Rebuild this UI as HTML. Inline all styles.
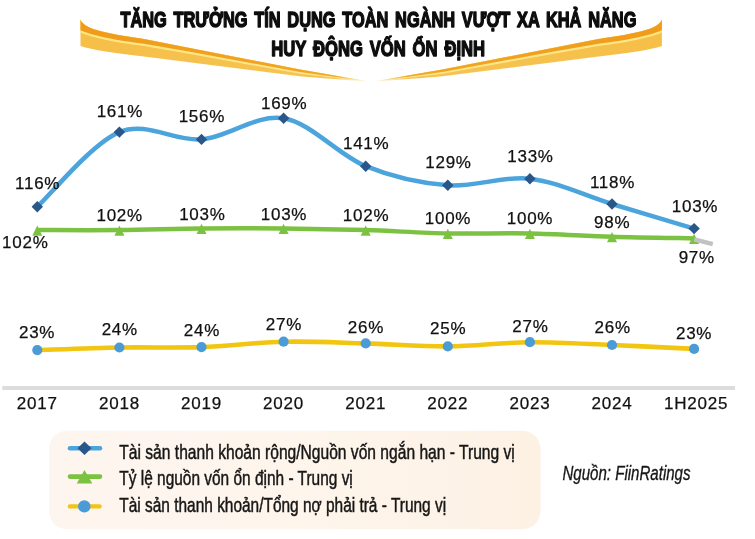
<!DOCTYPE html>
<html lang="vi"><head><meta charset="utf-8"><title>Tăng trưởng tín dụng toàn ngành vượt xa khả năng huy động vốn ổn định</title>
<style>
html,body{margin:0;padding:0;background:#fff;}
body{width:755px;height:539px;overflow:hidden;}
svg{display:block;}
.t{font-family:"Liberation Sans",Arial,sans-serif;fill:#111;}
.lb{font-size:17px;text-anchor:middle;letter-spacing:0.75px;stroke:#111;stroke-width:0.25px;}
.ax{font-size:17px;text-anchor:middle;letter-spacing:0.8px;stroke:#111;stroke-width:0.25px;}
.ti{font-family:"Liberation Sans",Arial,sans-serif;font-weight:700;font-size:22.6px;fill:#0d0d0d;stroke:#0d0d0d;stroke-width:1.5px;stroke-linejoin:round;word-spacing:3px;}
.lg{font-family:"Liberation Sans",Arial,sans-serif;font-size:21px;fill:#161616;stroke:#161616;stroke-width:0.5px;}
.src{font-family:"Liberation Sans",Arial,sans-serif;font-size:20.5px;font-style:italic;fill:#161616;stroke:#161616;stroke-width:0.35px;}
</style></head><body>
<svg width="755" height="539" viewBox="0 0 755 539">
<defs>
<linearGradient id="gOr" gradientUnits="userSpaceOnUse" x1="80" y1="0" x2="372" y2="0">
<stop offset="0" stop-color="#f09b19"/><stop offset="0.87" stop-color="#f2a624"/><stop offset="0.99" stop-color="#f8cf70" stop-opacity="0"/></linearGradient>
<linearGradient id="gPale" gradientUnits="userSpaceOnUse" x1="80" y1="0" x2="372" y2="0">
<stop offset="0" stop-color="#fee682"/><stop offset="0.87" stop-color="#fde68a"/><stop offset="0.99" stop-color="#fdebb0" stop-opacity="0"/></linearGradient>
<linearGradient id="gLow" gradientUnits="userSpaceOnUse" x1="80" y1="0" x2="372" y2="0">
<stop offset="0" stop-color="#f5bf48"/><stop offset="0.87" stop-color="#f6c453"/><stop offset="0.99" stop-color="#f9d98a" stop-opacity="0"/></linearGradient>
<linearGradient id="lgbg" x1="0" y1="0" x2="1" y2="0">
<stop offset="0" stop-color="#fdf5ef"/><stop offset="0.5" stop-color="#fef5ec"/><stop offset="1" stop-color="#fdf1e4"/></linearGradient>
</defs>
<rect width="755" height="539" fill="#fff"/>

<g id="swoosh-left"><path d="M80.5,19.6 C81.5,23 86,26.5 92.5,28.8 C100,31.5 118,35.5 144,39 L300,69.5 L372,82 C340,79.2 320,78.3 300,76.3 L144,56.6 C115,53 92,50 80.5,46 Z" fill="url(#gLow)"/><path d="M80.5,19.6 C81.5,23 86,26.5 92.5,28.8 C100,31.5 118,35.5 144,39 L300,69.5 L372,82 L300,73.8 L190,54 L144,46 C125,43.8 95,38.8 80.5,32.5 Z" fill="url(#gPale)"/><path d="M80.5,19.6 C81.5,23 86,26.5 92.5,28.8 C100,31.5 118,35.5 144,39 L300,69.5 L372,82 L300,72 L190,51.7 L144,43.7 C125,41.5 95,36.5 80.5,30.2 Z" fill="url(#gOr)"/></g>
<g id="swoosh-right" transform="translate(742.4,0) scale(-1,1)"><path d="M80.5,19.6 C81.5,23 86,26.5 92.5,28.8 C100,31.5 118,35.5 144,39 L300,69.5 L372,82 C340,79.2 320,78.3 300,76.3 L144,56.6 C115,53 92,50 80.5,46 Z" fill="url(#gLow)"/><path d="M80.5,19.6 C81.5,23 86,26.5 92.5,28.8 C100,31.5 118,35.5 144,39 L300,69.5 L372,82 L300,73.8 L190,54 L144,46 C125,43.8 95,38.8 80.5,32.5 Z" fill="url(#gPale)"/><path d="M80.5,19.6 C81.5,23 86,26.5 92.5,28.8 C100,31.5 118,35.5 144,39 L300,69.5 L372,82 L300,72 L190,51.7 L144,43.7 C125,41.5 95,36.5 80.5,30.2 Z" fill="url(#gOr)"/></g>
<text class="ti" x="120.4" y="27.4" textLength="516" lengthAdjust="spacingAndGlyphs">TĂNG TRƯỞNG TÍN DỤNG TOÀN NGÀNH VƯỢT XA KHẢ NĂNG</text>
<text class="ti" x="271.3" y="55.9" textLength="213.8" lengthAdjust="spacingAndGlyphs">HUY ĐỘNG VỐN ỔN ĐỊNH</text>
<line x1="2.3" y1="388" x2="735" y2="388" stroke="#dcdcdc" stroke-width="4"/>
<text class="t ax" x="37.3" y="408.7">2017</text>
<text class="t ax" x="119.4" y="408.7">2018</text>
<text class="t ax" x="201.5" y="408.7">2019</text>
<text class="t ax" x="283.6" y="408.7">2020</text>
<text class="t ax" x="365.7" y="408.7">2021</text>
<text class="t ax" x="447.8" y="408.7">2022</text>
<text class="t ax" x="529.9" y="408.7">2023</text>
<text class="t ax" x="612.0" y="408.7">2024</text>
<text class="t ax" x="696.2" y="408.7">1H2025</text>
<path d="M37.30,230.08 C50.98,230.08 92.03,230.36 119.40,230.08 C146.77,229.80 174.13,228.70 201.50,228.42 C228.87,228.14 256.23,228.14 283.60,228.42 C310.97,228.70 338.33,229.25 365.70,230.08 C393.07,230.91 420.43,232.85 447.80,233.40 C475.17,233.95 502.53,232.85 529.90,233.40 C557.27,233.95 584.63,235.89 612.00,236.72 C639.37,237.55 680.42,238.10 694.10,238.38" fill="none" stroke="#7cc242" stroke-width="4.5" stroke-linejoin="round"/>
<path d="M37.30,225.48 L42.30,235.68 L32.30,235.68 Z" fill="#7cc242"/>
<path d="M119.40,225.48 L124.40,235.68 L114.40,235.68 Z" fill="#7cc242"/>
<path d="M201.50,223.82 L206.50,234.02 L196.50,234.02 Z" fill="#7cc242"/>
<path d="M283.60,223.82 L288.60,234.02 L278.60,234.02 Z" fill="#7cc242"/>
<path d="M365.70,225.48 L370.70,235.68 L360.70,235.68 Z" fill="#7cc242"/>
<path d="M447.80,228.80 L452.80,239.00 L442.80,239.00 Z" fill="#7cc242"/>
<path d="M529.90,228.80 L534.90,239.00 L524.90,239.00 Z" fill="#7cc242"/>
<path d="M612.00,232.12 L617.00,242.32 L607.00,242.32 Z" fill="#7cc242"/>
<path d="M694.10,233.78 L699.10,243.98 L689.10,243.98 Z" fill="#7cc242"/>
<line x1="694.3" y1="239.3" x2="712.8" y2="244.1" stroke="#c2c2c2" stroke-width="4.3"/>
<path d="M37.30,206.70 C50.98,194.27 92.03,143.32 119.40,132.10 C146.77,120.88 174.13,141.70 201.50,139.40 C228.87,137.10 256.23,113.83 283.60,118.30 C310.97,122.77 338.33,155.03 365.70,166.20 C393.07,177.37 420.43,183.22 447.80,185.30 C475.17,187.38 502.53,175.58 529.90,178.70 C557.27,181.82 584.63,195.68 612.00,204.00 C639.37,212.32 680.42,224.50 694.10,228.60" fill="none" stroke="#4ba4dc" stroke-width="4.5" stroke-linejoin="round"/>
<path d="M37.30,201.00 L43.00,206.70 L37.30,212.40 L31.60,206.70 Z" fill="#2a578a"/>
<path d="M119.40,126.40 L125.10,132.10 L119.40,137.80 L113.70,132.10 Z" fill="#2a578a"/>
<path d="M201.50,133.70 L207.20,139.40 L201.50,145.10 L195.80,139.40 Z" fill="#2a578a"/>
<path d="M283.60,112.60 L289.30,118.30 L283.60,124.00 L277.90,118.30 Z" fill="#2a578a"/>
<path d="M365.70,160.50 L371.40,166.20 L365.70,171.90 L360.00,166.20 Z" fill="#2a578a"/>
<path d="M447.80,179.60 L453.50,185.30 L447.80,191.00 L442.10,185.30 Z" fill="#2a578a"/>
<path d="M529.90,173.00 L535.60,178.70 L529.90,184.40 L524.20,178.70 Z" fill="#2a578a"/>
<path d="M612.00,198.30 L617.70,204.00 L612.00,209.70 L606.30,204.00 Z" fill="#2a578a"/>
<path d="M694.10,222.90 L699.80,228.60 L694.10,234.30 L688.40,228.60 Z" fill="#2a578a"/>
<path d="M37.30,350.10 C50.98,349.67 92.03,348.00 119.40,347.50 C146.77,347.00 174.13,348.07 201.50,347.10 C228.87,346.13 256.23,342.32 283.60,341.70 C310.97,341.08 338.33,342.62 365.70,343.40 C393.07,344.18 420.43,346.60 447.80,346.40 C475.17,346.20 502.53,342.43 529.90,342.20 C557.27,341.97 584.63,343.88 612.00,345.00 C639.37,346.12 680.42,348.25 694.10,348.90" fill="none" stroke="#f2c511" stroke-width="4.6" stroke-linejoin="round"/>
<circle cx="37.30" cy="350.10" r="5.1" fill="#4b9bd6"/>
<circle cx="119.40" cy="347.50" r="5.1" fill="#4b9bd6"/>
<circle cx="201.50" cy="347.10" r="5.1" fill="#4b9bd6"/>
<circle cx="283.60" cy="341.70" r="5.1" fill="#4b9bd6"/>
<circle cx="365.70" cy="343.40" r="5.1" fill="#4b9bd6"/>
<circle cx="447.80" cy="346.40" r="5.1" fill="#4b9bd6"/>
<circle cx="529.90" cy="342.20" r="5.1" fill="#4b9bd6"/>
<circle cx="612.00" cy="345.00" r="5.1" fill="#4b9bd6"/>
<circle cx="694.10" cy="348.90" r="5.1" fill="#4b9bd6"/>
<text class="t lb" x="37.6" y="189.3">116%</text>
<text class="t lb" x="119.9" y="117.1">161%</text>
<text class="t lb" x="201.9" y="121.9">156%</text>
<text class="t lb" x="284.2" y="108.8">169%</text>
<text class="t lb" x="366.2" y="148.9">141%</text>
<text class="t lb" x="448.5" y="168.1">129%</text>
<text class="t lb" x="530.5" y="161.9">133%</text>
<text class="t lb" x="612.5" y="187.8">118%</text>
<text class="t lb" x="695.0" y="212.2">103%</text>
<text class="t lb" x="25.3" y="248.2">102%</text>
<text class="t lb" x="119.7" y="221.1">102%</text>
<text class="t lb" x="202.4" y="219.5">103%</text>
<text class="t lb" x="284.0" y="219.8">103%</text>
<text class="t lb" x="366.1" y="221.1">102%</text>
<text class="t lb" x="448.0" y="224.2">100%</text>
<text class="t lb" x="530.0" y="224.2">100%</text>
<text class="t lb" x="612.2" y="227.5">98%</text>
<text class="t lb" x="696.8" y="262.8">97%</text>
<text class="t lb" x="37.1" y="337.8">23%</text>
<text class="t lb" x="119.8" y="335.4">24%</text>
<text class="t lb" x="201.9" y="335.7">24%</text>
<text class="t lb" x="284.0" y="330.4">27%</text>
<text class="t lb" x="366.0" y="332.5">26%</text>
<text class="t lb" x="448.2" y="334.4">25%</text>
<text class="t lb" x="530.5" y="331.9">27%</text>
<text class="t lb" x="612.7" y="333.0">26%</text>
<text class="t lb" x="694.1" y="338.6">23%</text>
<rect x="49" y="430.8" width="491.5" height="98.4" rx="18" ry="18" fill="url(#lgbg)"/>
<line x1="70" y1="448.3" x2="100" y2="448.3" stroke="#4ba4dc" stroke-width="4.6" stroke-linecap="round"/>
<path d="M84.5,441.5 L91.5,448.3 L84.5,455 L77.5,448.3 Z" fill="#2a578a"/>
<line x1="70" y1="476.6" x2="100" y2="476.6" stroke="#7cc242" stroke-width="4.6" stroke-linecap="round"/>
<path d="M84.5,470 L92.3,483.5 L76.7,483.5 Z" fill="#7cc242"/>
<line x1="70" y1="506.4" x2="99.5" y2="506.4" stroke="#f2c511" stroke-width="4.4" stroke-linecap="round"/>
<circle cx="84.3" cy="506.4" r="6.2" fill="#4b9bd6"/>
<text class="lg" x="119.3" y="458.7" textLength="395.5" lengthAdjust="spacingAndGlyphs">Tài sản thanh khoản rộng/Nguồn vốn ngắn hạn - Trung vị</text>
<text class="lg" x="119.3" y="485.3" textLength="233.5" lengthAdjust="spacingAndGlyphs">Tỷ lệ nguồn vốn ổn định - Trung vị</text>
<text class="lg" x="119.3" y="512.2" textLength="326.8" lengthAdjust="spacingAndGlyphs">Tài sản thanh khoản/Tổng nợ phải trả - Trung vị</text>
<text class="src" x="562.5" y="479.5" textLength="128" lengthAdjust="spacingAndGlyphs">Nguồn: FiinRatings</text>
</svg>
</body></html>
